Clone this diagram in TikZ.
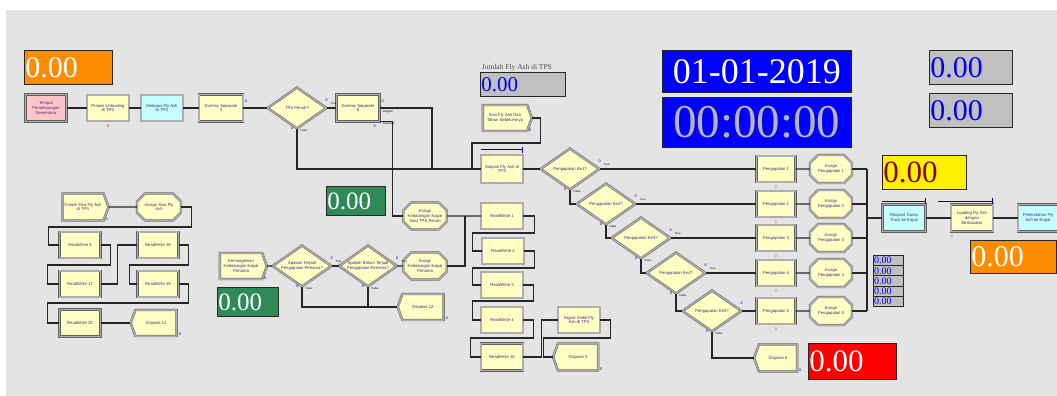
\documentclass[tikz,border=0pt]{standalone}
\usepackage{fontspec}
\setmainfont{Liberation Serif}
\setsansfont{Liberation Sans}
\usepackage{tikz}
\usetikzlibrary{positioning, shapes.geometric, shapes.misc, shapes.symbols, arrows.meta, calc}
\definecolor{canvas}{RGB}{228,228,228}
\definecolor{modyellow}{RGB}{255,255,196}
\definecolor{modcyan}{RGB}{196,255,255}
\definecolor{modpink}{RGB}{255,196,200}
\definecolor{modtext}{RGB}{62,44,132}
\definecolor{dorange}{RGB}{255,140,0}
\definecolor{dgreen}{RGB}{46,139,87}
\definecolor{dgray}{RGB}{192,192,192}
\definecolor{dred}{RGB}{139,0,0}
\definecolor{silver}{RGB}{180,180,180}
\begin{document}
\begin{tikzpicture}[x=1pt, y=-1pt,
    module/.style={draw=black!62, double=black!32, double distance=1.5pt, line width=0.45pt, inner sep=0.5pt, align=center, text=modtext, font=\sffamily\fontsize{4.2}{4.7}\selectfont, minimum width=42pt, minimum height=26pt},
    procbox/.style={module, rectangle, fill=modyellow},
    cyanbox/.style={module, rectangle, fill=modcyan},
    pinkbox/.style={module, rectangle, fill=modpink},
    assignbox/.style={module, chamfered rectangle, chamfered rectangle xsep=4pt, chamfered rectangle ysep=4pt, fill=modyellow},
    createbox/.style={module, signal, signal to=east, signal pointer angle=140, fill=modyellow},
    disposebox/.style={module, signal, signal to=west, signal pointer angle=140, fill=modyellow},
    decidebox/.style={module, diamond, aspect=1.4, fill=modyellow, minimum width=59pt, minimum height=41pt},
    link/.style={draw=black!85, line width=1.1pt},
    queue/.style={draw=blue!75!black, line width=0.8pt, -{Bar[width=6pt]}},
    disp/.style={draw=black!85, line width=0.8pt, anchor=north west, inner sep=1pt, align=left},
    tag/.style={font=\sffamily\fontsize{2.8}{3}\selectfont, inner sep=0pt},
    cnt/.style={font=\sffamily\fontsize{3.8}{4}\selectfont, text=blue!70!black, inner sep=0pt}
]
\useasboundingbox (0,0) rectangle (1057,396);
\fill[white] (0,0) rectangle (1057,396);
\fill[canvas] (6,10) rectangle (1057,396);

% Displays
\node[disp, fill=dorange, text=white, text width=86pt, minimum height=34pt, font=\fontsize{30}{30}\selectfont] (stokAwal) at (24,50) {0.00};
\node[disp, fill=dgray, text=blue, text width=83pt, minimum height=24pt, font=\fontsize{21}{21}\selectfont] (jumlahBox) at (480,72) {0.00};
\node[above=0.5pt of jumlahBox.north, xshift=-6pt, inner sep=0pt, text=black!70, font=\fontsize{7.5}{8}\selectfont] (jumlahLabel) {Jumlah Fly Ash di TPS};
\node[disp, fill=blue, text=white, text width=187pt, minimum height=42pt, align=center, font=\fontsize{36}{36}\selectfont] (tanggal) at (662,50) {01-01-2019};
\node[disp, fill=blue, text=silver, text width=187pt, minimum height=50pt, align=center, font=\fontsize{47}{47}\selectfont] (jam) at (662,97) {00:00:00};
\node[disp, fill=dgray, text=blue, text width=81pt, minimum height=34pt, font=\fontsize{30}{30}\selectfont] (nilaiA) at (929,50) {0.00};
\node[disp, fill=dgray, text=blue, text width=81pt, minimum height=34pt, font=\fontsize{30}{30}\selectfont] (nilaiB) at (929,93) {0.00};
\node[disp, fill=yellow, text=dred, text width=82pt, minimum height=34pt, font=\fontsize{31}{31}\selectfont] (nilaiKuning) at (882,155) {0.00};
\node[disp, fill=dorange, text=white, text width=84pt, minimum height=33pt, font=\fontsize{30}{30}\selectfont] (stokKapal) at (970,240) {0.00};
\node[disp, fill=red, text=white, text width=86pt, minimum height=36pt, font=\fontsize{31}{31}\selectfont] (nilaiMerah) at (808,343) {0.00};
\node[disp, fill=dgreen, text=white, text width=57pt, minimum height=29pt, font=\fontsize{25}{25}\selectfont] (hijauA) at (326,186) {0.00};
\node[disp, fill=dgreen, text=white, text width=59pt, minimum height=29pt, font=\fontsize{25}{25}\selectfont] (hijauB) at (217,287) {0.00};
\foreach \i in {0,...,4}
  \node[disp, fill=dgray, text=blue, line width=1pt, text width=29pt, minimum height=10.2pt, inner sep=0.5pt, font=\fontsize{10}{10}\selectfont] (kecil\i) at (873,255+10.2*\i) {0.00};

% Main line
\node[pinkbox, minimum width=41pt, minimum height=27pt] (tempat) at (46,108) {Tempat\\Penampungan\\Sementara};
\node[procbox] (proses) at (108,108) {Proses Unloading\\di TPS};
\node[cyanbox] (melepas) at (162,108) {Melepas Fly Ash\\di TPS};
\node[procbox, minimum width=44pt, minimum height=27pt] (dummyA) at (221,108) {Dummy Separate\\3};
\node[decidebox] (tpsPenuh) at (297,108) {TPS Penuh?};
\node[procbox, minimum width=43pt, minimum height=27pt] (dummyB) at (358,108) {Dummy Separate\\6};
\node[createbox, minimum width=49pt] (sisaTahun) at (505,118) {Sisa Fly Ash Dari\\Tahun Sebelumnya};
\node[procbox, minimum height=28pt] (simpan) at (502,169) {Simpan Fly Ash di\\TPS};

% Shipping decisions
\node[decidebox] (ke1) at (570,169) {Pengapalan Ke1?};
\node[decidebox] (ke2) at (606,204) {Pengapalan Ke2?};
\node[decidebox] (ke3) at (641,238) {Pengapalan Ke3?};
\node[decidebox] (ke4) at (676,273) {Pengapalan Ke4?};
\node[decidebox] (ke5) at (712,311) {Pengapalan Ke5?};
\foreach \i/\y in {1/169,2/204,3/238,4/273,5/311}{
  \node[procbox, minimum width=39pt] (peng\i) at (776,\y) {Pengapalan \i};
  \node[assignbox, minimum height=28pt] (asg\i) at (831,\y) {Assign\\Pengapalan \i};
}
\node[disposebox, minimum width=43pt, minimum height=27pt] (dispose6) at (778,358) {Dispose 6};

% Loading to ship
\node[cyanbox, minimum width=43pt, minimum height=27pt] (request) at (904,218) {Request Dump\\Truck ke Kapal};
\node[procbox, minimum height=27pt] (loading) at (972,218) {Loading Fly Ash\\dengan\\Ekskavator};
\node[cyanbox, minimum width=40pt, minimum height=27pt] (pindah) at (1038,218) {Pemindahan Fly\\Ash ke Kapal};

% Ship arrival
\node[assignbox, minimum height=27pt] (kedPenuh) at (425,216) {Assign\\Kedatangan Kapal\\Saat TPS Penuh};
\node[createbox, minimum width=47pt] (kemungkinan) at (241,266) {Kemungkinan\\Kedatangan Kapal\\Pertama};
\node[decidebox] (apaTerjadi) at (302,266) {Apakah Terjadi\\Pengapalan Pertama?};
\node[decidebox, minimum width=58pt] (apaBelum) at (368,266) {Apakah Belum Terjadi\\Pengapalan Pertama?};
\node[assignbox, minimum height=27pt] (kedPertama) at (425,266) {Assign\\Kedatangan Kapal\\Pertama};
\node[disposebox, minimum width=46pt] (dispose12) at (423,307) {Dispose 12};

% ReadWrite chain
\node[procbox] (rw1) at (502,216) {ReadWrite 1};
\node[procbox] (rw2) at (503,251) {ReadWrite 2};
\node[procbox] (rw3) at (502,285) {ReadWrite 3};
\node[procbox] (rw4) at (502,320) {ReadWrite 4};
\node[procbox, minimum height=27pt] (rw16) at (502,357) {ReadWrite 16};
\node[procbox] (signalAmbil) at (579,320) {Signal Ambil Fly\\Ash di TPS};
\node[disposebox, minimum width=45pt, minimum height=27pt] (dispose5) at (578,357) {Dispose 5};

% Leftover stock
\node[createbox, minimum width=46pt, minimum height=27pt] (createSisa) at (83,207) {Create Sisa Fly Ash\\di TPS};
\node[assignbox, minimum width=44pt, minimum height=27pt] (assignSisa) at (159,207) {Assign Sisa Fly\\Ash};
\node[procbox, minimum width=41pt] (rw9) at (80,245) {ReadWrite 9};
\node[procbox, minimum width=41pt] (rw18) at (158,245) {ReadWrite 18};
\node[procbox, minimum width=41pt] (rw17) at (80,284) {ReadWrite 17};
\node[procbox, minimum width=41pt] (rw19) at (158,284) {ReadWrite 19};
\node[procbox, minimum width=41pt, minimum height=27pt] (rw20) at (80,323) {ReadWrite 20};
\node[disposebox, minimum width=46pt] (dispose11) at (156,323) {Dispose 11};

% Queues
\draw[queue] ([yshift=5pt]simpan.north west) -- ([yshift=5pt]simpan.north east);
\draw[queue] ([yshift=3pt]request.north west) -- ([yshift=3pt]request.north east);
\draw[queue] ([shift={(-13pt,3pt)}]loading.north west) -- ([yshift=3pt]loading.north east);

% Junctions
\coordinate (jA) at (432,169);
\coordinate (jB) at (472,169);
\coordinate (jC) at (465,216);
\coordinate (busA) at (867,169);
\coordinate (busE) at (867,311);

% Connections
\draw[link] (tempat) -- (proses);
\draw[link] (proses) -- (melepas);
\draw[link] (melepas) -- (dummyA);
\draw[link] (dummyA) -- (tpsPenuh);
\draw[link] (tpsPenuh) -- (dummyB);
\draw[link] (tpsPenuh.south) |- (simpan.west);
\draw[link] (dummyB.east) -| (jA);
\draw[link] (dummyB.south east) -- ++(13,0) |- (kedPenuh.west);
\draw[link] (sisaTahun.east) -- ++(8,0) -- ++(0,25) -| (jB);
\draw[link] (simpan) -- (ke1);
\draw[link] (ke1.south) |- (ke2.west);
\draw[link] (ke2.south) |- (ke3.west);
\draw[link] (ke3.south) |- (ke4.west);
\draw[link] (ke4.south) |- (ke5.west);
\draw[link] (ke5.south) |- (dispose6.west);
\foreach \i in {1,...,5}{
  \draw[link] (ke\i.east) -- (peng\i.west);
  \draw[link] (peng\i) -- (asg\i);
  \draw[link] (asg\i.east) -- (asg\i.east -| busA);
}
\draw[link] (busA) -- (busE);
\draw[link] (request.west -| busA) -- (request.west);
\draw[link] (request) -- (loading);
\draw[link] (loading) -- (pindah);

\draw[link] (kemungkinan) -- (apaTerjadi);
\draw[link] (apaTerjadi) -- (apaBelum);
\draw[link] (apaBelum) -- (kedPertama);
\draw[link] (apaTerjadi.south) |- (dispose12.west);
\draw[link] (apaBelum.south) -- (apaBelum.south |- dispose12.west);
\draw[link] (kedPenuh) -- (rw1);
\draw[link] (kedPertama.east) -| (jC);

\draw[link] (rw1.east) -- ++(11,0) -- ++(0,17) -| ([xshift=-9pt]rw2.west) -- (rw2.west);
\draw[link] (rw2.east) -- ++(10,0) -- ++(0,17) -| ([xshift=-8pt]rw3.west) -- (rw3.west);
\draw[link] (rw3.east) -- ++(10,0) -- ++(0,16) -| ([xshift=-8pt]rw4.west) -- (rw4.west);
\draw[link] (rw4.east) -- ++(10,0) -- ++(0,18) -| ([xshift=-10pt]rw16.west) -- (rw16.west);
\draw[link] (rw16.east) -- ++(18,0) |- (signalAmbil.west);
\draw[link] (signalAmbil.east) -- ++(10,0) -- ++(0,18) -| ([xshift=-9pt]dispose5.west) -- (dispose5.west);

\draw[link] (createSisa) -- (assignSisa);
\draw[link] (assignSisa.east) -- ++(10,0) -- ++(0,20) -| ([xshift=-11pt]rw9.west) -- (rw9.west);
\draw[link] (rw9.east) -- ++(10,0) -- ++(0,20) -| ([xshift=-12pt]rw17.west) -- (rw17.west);
\draw[link] (rw17.east) -- ++(17,0) |- (rw18.west);
\draw[link] (rw18.east) -- ++(10,0) -- ++(0,20) -| ([xshift=-8pt]rw19.west) -- (rw19.west);
\draw[link] (rw19.east) -- ++(10,0) -- ++(0,19) -| ([xshift=-12pt]rw20.west) -- (rw20.west);
\draw[link] (rw20) -- (dispose11);

% Exit labels and counters
\foreach \d in {tpsPenuh,apaTerjadi,apaBelum,ke1,ke2,ke3,ke4,ke5}{
  \node[cnt] (c\d T) at ([yshift=8pt]\d.east) {0};
  \node[cnt] (c\d F) at ([shift={(-5pt,1pt)}]\d.south) {0};
  \node[tag] (t\d F) at ([shift={(7pt,-1.5pt)}]\d.south) {False};
}
\foreach \d in {tpsPenuh,apaTerjadi,apaBelum,ke1,ke2,ke3,ke4}
  \node[tag] (t\d T) at ([shift={(7pt,4.5pt)}]\d.east) {True};
\node[tag, anchor=west] (tOrig) at ([shift={(3pt,-4pt)}]dummyB.east) {Original};
\node[tag, anchor=west] (tDup) at ([shift={(3pt,-2.5pt)}]dummyB.south east) {Duplicate};
\node[cnt] (cDummyB) at ([shift={(3pt,7pt)}]dummyB.east) {0};
\node[cnt] (cDummyB2) at ([shift={(-5pt,-4pt)}]dummyB.south east) {0};
\node[cnt] (cDummyA) at ([shift={(3pt,7pt)}]dummyA.east) {0};
\node[cnt, text=red!70!black] (cProses) at ([yshift=-5pt]proses.south) {0};
\foreach \i in {1,...,5}
  \node[cnt, text=purple!70] (cPeng\i) at ([yshift=-4.5pt]peng\i.south) {0};
\node[cnt, text=purple!70] (cLoading) at ([shift={(1pt,-4pt)}]loading.south west) {0};
\foreach \m in {sisaTahun,createSisa,kemungkinan,dispose5,dispose6,dispose11,dispose12}
  \node[cnt] (c\m) at ([shift={(3pt,1.5pt)}]\m.south east) {0};

\end{tikzpicture}
\end{document}
